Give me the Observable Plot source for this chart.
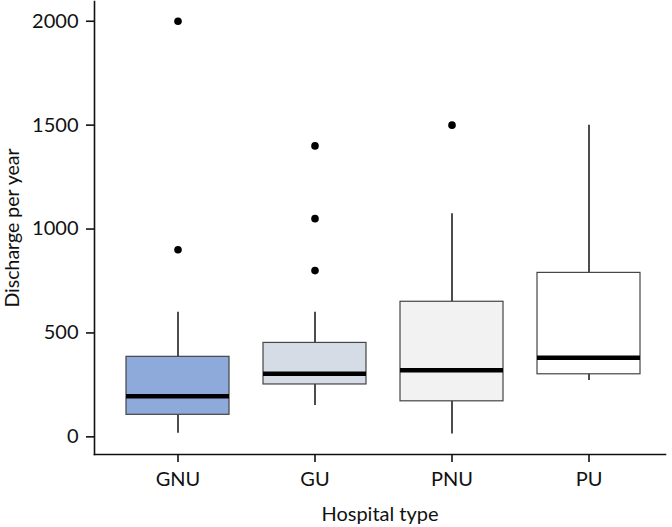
<!DOCTYPE html>
<html>
<head>
<meta charset="utf-8">
<script src="https://cdn.jsdelivr.net/npm/d3@7"></script>
<script src="https://cdn.jsdelivr.net/npm/@observablehq/plot@0.6"></script>
<style>
  html, body { margin: 0; padding: 0; background: #fff; }
  #chart svg g[aria-label$="axis tick"] path,
  #chart svg g[aria-label$="axis tick"],
  #chart svg [aria-label="frame"],
  #chart svg g[aria-label="frame"] path,
  #chart svg g[aria-label="frame"] line { stroke-width: 1.6px; }
</style>
</head>
<body>
<div id="chart"></div>
<script>
// Hospital types (x categories)
const categories = ["GNU", "GU", "PNU", "PU"];
// Box-plot summary statistics per category (discharges per year)
const lowerWhisker = [17, 151, 14, 271];
const q1 = [106, 252, 171, 301];
const median = [195, 303, 320, 380];
const q3 = [385, 452, 650, 789];
const upperWhisker = [600, 600, 1073, 1500];
// Outliers
const outlierType = ["GNU", "GNU", "GU", "GU", "GU", "PNU"];
const outlierValue = [2000, 900, 1400, 1050, 800, 1500];
// Y tick values
const yTicks = [0, 500, 1000, 1500, 2000];
// Box fill colours per category
const boxColors = ["#8eaadb", "#d6dce5", "#f2f2f2", "#ffffff"];

const boxes = categories.map((type, i) => ({
  type, lo: lowerWhisker[i], q1: q1[i], med: median[i], q3: q3[i], hi: upperWhisker[i]
}));
const outliers = outlierType.map((type, i) => ({type, value: outlierValue[i]}));

const ink = "#111";

const chart = Plot.plot({
  width: 672,
  height: 527,
  marginLeft: 94,
  marginRight: 7,
  marginTop: 1,
  marginBottom: 73,
  style: {fontFamily: "Lato, 'Open Sans', sans-serif", fontSize: "20px", color: ink, background: "#fff"},
  x: {type: "band", domain: categories, range: [94, 671], paddingInner: 0.25, paddingOuter: 0.225,
      tickSize: 8, tickPadding: 9, line: true, label: null},
  y: {domain: [-85, 2095], ticks: yTicks, tickSize: 8, tickPadding: 8, tickFormat: d => String(d),
      line: true, label: null},
  color: {domain: categories, range: boxColors},
  marks: [
    Plot.ruleX(boxes, {x: "type", y1: "lo", y2: "q1", stroke: "#000", strokeWidth: 1.4}),
    Plot.ruleX(boxes, {x: "type", y1: "q3", y2: "hi", stroke: "#000", strokeWidth: 1.4}),
    Plot.barY(boxes, {x: "type", y1: "q1", y2: "q3", fill: "type", stroke: "#444", strokeWidth: 1.2}),
    Plot.tickY(boxes, {x: "type", y: "med", stroke: "#000", strokeWidth: 4.5}),
    Plot.dot(outliers, {x: "type", y: "value", r: 3.8, fill: "#000", stroke: null}),
    Plot.text(["Discharge per year"], {text: d => d, frameAnchor: "left", textAnchor: "middle", lineAnchor: "middle", dx: -82, rotate: -90, fontSize: 19.5, fill: ink}),
    Plot.text(["Hospital type"], {text: d => d, frameAnchor: "bottom", textAnchor: "middle", lineAnchor: "middle", dy: 60, fontSize: 20, fill: ink})
  ]
});
document.getElementById("chart").appendChild(chart);
</script>
</body>
</html>
